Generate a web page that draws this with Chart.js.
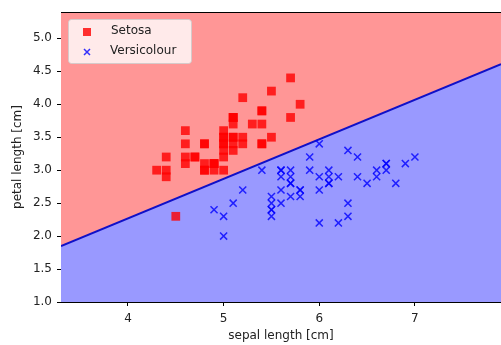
<!DOCTYPE html>
<html>
<head>
<meta charset="utf-8">
<script src="https://cdn.jsdelivr.net/npm/chart.js@4/dist/chart.umd.min.js"></script>
<style>
  html, body { margin: 0; padding: 0; background: #fff; }
  #wrap { width: 501px; height: 345px; }
</style>
</head>
<body>
<div id="wrap"><canvas id="irisChart" width="501" height="345"></canvas></div>
<script>
/* ── Iris decision regions (perceptron) ── */

const setosaX = [5.1, 4.9, 4.7, 4.6, 5.0, 5.4, 4.6, 5.0, 4.4, 4.9, 5.4, 4.8, 4.8, 4.3, 5.8, 5.7, 5.4,
                 5.1, 5.7, 5.1, 5.4, 5.1, 4.6, 5.1, 4.8, 5.0, 5.0, 5.2, 5.2, 4.7, 4.8, 5.4, 5.2, 5.5,
                 4.9, 5.0, 5.5, 4.9, 4.4, 5.1, 5.0, 4.5, 4.4, 5.0, 5.1, 4.8, 5.1, 4.6, 5.3, 5.0];
const setosaY = [3.5, 3.0, 3.2, 3.1, 3.6, 3.9, 3.4, 3.4, 2.9, 3.1, 3.7, 3.4, 3.0, 3.0, 4.0, 4.4, 3.9,
                 3.5, 3.8, 3.8, 3.4, 3.7, 3.6, 3.3, 3.4, 3.0, 3.4, 3.5, 3.4, 3.2, 3.1, 3.4, 4.1, 4.2,
                 3.1, 3.2, 3.5, 3.1, 3.0, 3.4, 3.5, 2.3, 3.2, 3.5, 3.8, 3.0, 3.8, 3.2, 3.7, 3.3];

const versiX = [7.0, 6.4, 6.9, 5.5, 6.5, 5.7, 6.3, 4.9, 6.6, 5.2, 5.0, 5.9, 6.0, 6.1, 5.6, 6.7, 5.6,
                5.8, 6.2, 5.6, 5.9, 6.1, 6.3, 6.1, 6.4, 6.6, 6.8, 6.7, 6.0, 5.7, 5.5, 5.5, 5.8, 6.0,
                5.4, 6.0, 6.7, 6.3, 5.6, 5.5, 5.5, 6.1, 5.8, 5.0, 5.6, 5.7, 5.7, 6.2, 5.1, 5.7];
const versiY = [3.2, 3.2, 3.1, 2.3, 2.8, 2.8, 3.3, 2.4, 2.9, 2.7, 2.0, 3.0, 2.2, 2.9, 2.9, 3.1, 3.0,
                2.7, 2.2, 2.5, 3.2, 2.8, 2.5, 2.8, 2.9, 3.0, 2.8, 3.0, 2.9, 2.6, 2.4, 2.4, 2.7, 2.7,
                3.0, 3.4, 3.1, 2.3, 3.0, 2.5, 2.6, 3.0, 2.6, 2.3, 2.7, 3.0, 2.9, 2.9, 2.5, 2.8];

// decision boundary end points
const boundaryX = [3.3, 7.9];
const boundaryY = [1.85, 4.61];

const xTicks = [4, 5, 6, 7];
const yTicks = [1.0, 1.5, 2.0, 2.5, 3.0, 3.5, 4.0, 4.5, 5.0];

const FONT = "'DejaVu Sans', sans-serif";
Chart.defaults.font.family = FONT;
Chart.defaults.font.size = 12;
Chart.defaults.color = '#222';

const toPts = (xs, ys) => xs.map((x, i) => ({ x, y: ys[i] }));
const boundary = toPts(boundaryX, boundaryY);

const legendPlugin = {
  id: 'insideLegend',
  afterDraw(chart) {
    const { ctx, chartArea: a } = chart;
    ctx.save();
    // top frame line
    ctx.strokeStyle = '#000';
    ctx.lineWidth = 1;
    ctx.beginPath();
    ctx.moveTo(a.left, a.top + 0.5);
    ctx.lineTo(a.right, a.top + 0.5);
    ctx.stroke();

    // legend box
    const bx = 68, by = 19, bw = 123, bh = 44;
    ctx.fillStyle = 'rgba(255,255,255,0.8)';
    ctx.strokeStyle = 'rgba(204,204,204,0.8)';
    ctx.beginPath();
    ctx.roundRect(bx + 0.5, by + 0.5, bw, bh, 3);
    ctx.fill();
    ctx.stroke();

    ctx.fillStyle = 'rgba(255,0,0,0.8)';
    ctx.fillRect(83, 28, 8, 8);

    ctx.strokeStyle = 'rgba(0,0,255,0.8)';
    ctx.lineWidth = 1.5;
    ctx.beginPath();
    ctx.moveTo(84, 49); ctx.lineTo(90, 55);
    ctx.moveTo(90, 49); ctx.lineTo(84, 55);
    ctx.stroke();

    ctx.fillStyle = '#222';
    ctx.font = '12px ' + FONT;
    ctx.textBaseline = 'middle';
    ctx.fillText('Setosa', 111, 31);
    ctx.fillText('Versicolour', 110, 51);
    ctx.restore();
  },
};

new Chart(document.getElementById('irisChart'), {
  type: 'scatter',
  data: {
    datasets: [
      {
        label: 'Setosa',
        data: toPts(setosaX, setosaY),
        pointStyle: 'rect',
        pointRadius: 6.2,
        backgroundColor: 'rgba(255,0,0,0.8)',
        borderWidth: 0,
        order: 1,
      },
      {
        label: 'Versicolour',
        data: toPts(versiX, versiY),
        pointStyle: 'crossRot',
        pointRadius: 5,
        borderColor: 'rgba(0,0,255,0.8)',
        borderWidth: 1.5,
        order: 1,
      },
      {
        type: 'line',
        data: boundary,
        borderColor: '#1010c8',
        borderWidth: 2,
        pointRadius: 0,
        backgroundColor: 'rgb(153,153,255)',
        fill: 'start',
        order: 2,
      },
      {
        type: 'line',
        data: boundary,
        borderColor: 'rgba(0,0,0,0)',
        borderWidth: 0,
        pointRadius: 0,
        backgroundColor: 'rgb(255,150,150)',
        fill: 'end',
        order: 3,
      },
    ],
  },
  plugins: [legendPlugin],
  options: {
    responsive: false,
    animation: false,
    layout: { autoPadding: false, padding: { top: 12, right: 0, left: 0, bottom: 0 } },
    plugins: { legend: { display: false }, tooltip: { enabled: false } },
    scales: {
      x: {
        type: 'linear',
        min: 3.3,
        max: 7.9,
        afterFit: s => { s.height = 43; s.paddingRight = 0; s.paddingLeft = 0; },
        afterBuildTicks: s => { s.ticks = xTicks.map(v => ({ value: v })); },
        grid: { drawOnChartArea: false, drawTicks: true, tickLength: 4, color: '#000' },
        border: { display: true, color: '#000', width: 1 },
        ticks: { padding: 6, callback: v => String(v) },
        title: { display: true, text: 'sepal length [cm]', padding: { top: 0, bottom: 2 } },
      },
      y: {
        type: 'linear',
        min: 1.0,
        max: 5.4,
        afterFit: s => { s.width = 61; s.paddingTop = 0; s.paddingBottom = 0; },
        afterBuildTicks: s => { s.ticks = yTicks.map(v => ({ value: v })); },
        grid: { drawOnChartArea: false, drawTicks: true, tickLength: 4, color: '#000' },
        border: { display: true, color: '#000', width: 1 },
        ticks: { padding: 5, callback: v => Number(v).toFixed(1) },
        title: { display: true, text: 'petal length [cm]', padding: { top: 11, bottom: 0 } },
      },
    },
  },
});
</script>
</body>
</html>
